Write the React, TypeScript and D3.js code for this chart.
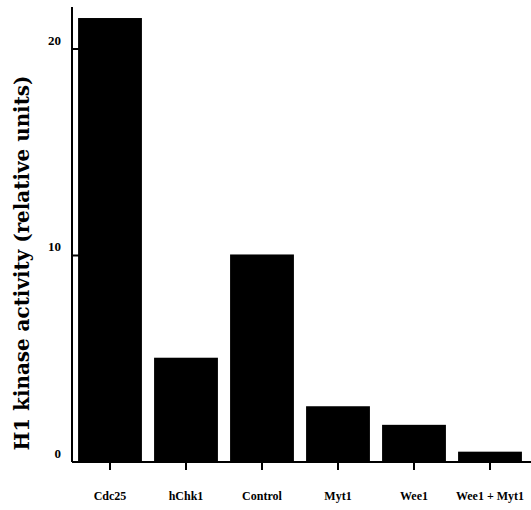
import React from "react";
import * as d3 from "d3";

const categories = ["Cdc25", "hChk1", "Control", "Myt1", "Wee1", "Wee1 + Myt1"];
const values = [21.5, 5.05, 10.05, 2.7, 1.8, 0.5];
const yTicks = [0, 10, 20];

const W = 531;
const H = 510;

export default function App() {
  const x = d3
    .scaleBand<string>()
    .domain(categories)
    .range([72, 528])
    .paddingInner(0.16)
    .paddingOuter(0.08);
  const y = d3.scaleLinear().domain([0, 20]).range([462, 49]);
  const font = "'Liberation Serif', 'Times New Roman', serif";
  return (
    <svg
      width={W}
      height={H}
      style={{ position: "absolute", left: 0, top: 0, background: "#fff" }}
      fontFamily={font}
    >
      {categories.map((c, i) => (
        <rect
          key={c}
          x={x(c)!}
          y={y(values[i])}
          width={x.bandwidth()}
          height={y(0) - y(values[i])}
          fill="#000"
        />
      ))}
      {/* y axis */}
      <line x1={72} x2={72} y1={7} y2={y(0)} stroke="#000" strokeWidth={2} />
      {yTicks.map((t) => (
        <g key={t}>
          <line x1={72} x2={80} y1={y(t)} y2={y(t)} stroke="#000" strokeWidth={2} />
          <text
            x={61}
            y={y(t) - 7}
            textAnchor="end"
            dominantBaseline="middle"
            fontSize={13}
            fontWeight="bold"
          >
            {t}
          </text>
        </g>
      ))}
      {/* x axis */}
      <line x1={72} x2={531} y1={y(0)} y2={y(0)} stroke="#000" strokeWidth={2} />
      {categories.map((c) => {
        const cx = x(c)! + x.bandwidth() / 2;
        return (
          <g key={c}>
            <line x1={cx} x2={cx} y1={y(0)} y2={y(0) + 8} stroke="#000" strokeWidth={2} />
            <text
              x={cx}
              y={497}
              textAnchor="middle"
              dominantBaseline="middle"
              fontSize={12}
              fontWeight="bold"
            >
              {c}
            </text>
          </g>
        );
      })}
      <text
        transform={`translate(23, 263) rotate(-90)`}
        textAnchor="middle"
        dominantBaseline="middle"
        fontSize={21}
        fontWeight="bold"
        fontFamily="'DejaVu Serif', serif"
        textLength={375}
        lengthAdjust="spacingAndGlyphs"
      >
        H1 kinase activity (relative units)
      </text>
    </svg>
  );
}
